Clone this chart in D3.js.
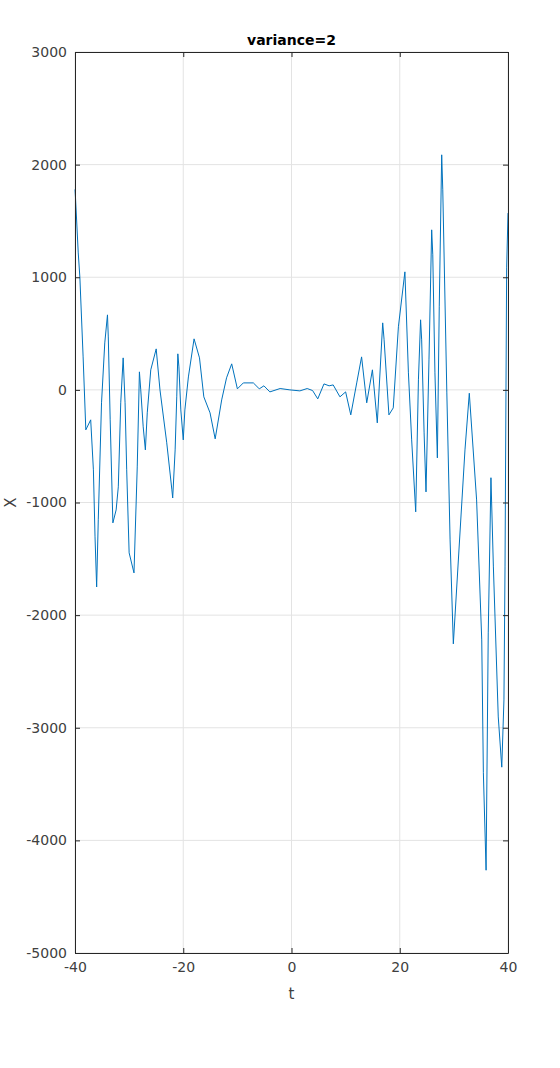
<!DOCTYPE html>
<html>
<head>
<meta charset="utf-8">
<script src="https://cdn.jsdelivr.net/npm/d3@7"></script>
<style>
  body { margin: 0; background: #fff; }
  svg text { font-family: "DejaVu Sans", sans-serif; fill: #262626; }
  .grid line { stroke: #e3e3e3; stroke-width: 1; }
  .axis path, .axis line { stroke: #262626; }
</style>
</head>
<body>
<div id="chart"></div>
<script>
// samples
var tVals = [-40, -39.9, -39.4, -39.1, -38.5, -38, -37.1, -36.6, -36.3, -36, -35.7, -35.1, -34.5, -34, -33.85, -33.5,
  -33, -32.4, -32, -31.55, -31.1, -30.75, -30.45, -30, -29.1, -28.5, -28.1, -27.85, -27.4, -27, -26.65, -26,
  -25, -24.3, -23.05, -22.1, -21.95, -21.5, -21.2, -21, -20.8, -20.45, -20, -19.7, -19.05, -18, -17, -16.2,
  -15.05, -14.1, -12.9, -12, -11.05, -10, -8.9, -7.05, -5.95, -5.1, -4, -2.1, -0.3, 1.55, 2.9, 3.9,
  4.85, 6, 6.95, 7.7, 8.95, 10, 10.95, 12.05, 12.95, 13.9, 14.95, 15.85, 16.85, 17.1, 18, 18.8,
  19.75, 20.95, 21.6, 22.2, 22.95, 23.45, 23.85, 24.05, 24.5, 24.85, 25.4, 25.9, 26.1, 26.5, 26.95, 27.3,
  27.75, 27.95, 28.7, 29.3, 29.9, 32.05, 32.85, 34.2, 35.15, 35.45, 35.95, 36.35, 36.85, 37.3, 38.2, 38.85,
  39.25, 39.45, 39.75, 40];
var xVals = [1780, 1700, 1216, 1000, 293, -355, -266, -710, -1305, -1750, -1154, -115, 417, 666, 470, -266,
  -1181, -1066, -861, -115, 284, -115, -710, -1447, -1625, -684, 160, 0, -328, -533, -204, 178,
  364, 0, -470, -888, -960, -533, -62, 320, 204, -178, -444, -178, 115, 453, 284, -62,
  -204, -435, -89, 107, 231, 9, 62, 62, 9, 36, -18, 12, 0, -9, 12, -6,
  -80, 53, 36, 44, -62, -18, -222, 62, 293, -115, 178, -293, 595, 450, -222, -160,
  560, 1048, 151, -444, -1083, 89, 622, 444, -382, -906, 266, 1421, 1199, 151, -604, 737,
  2087, 1776, -27, -1332, -2255, -533, -30, -977, -2220, -3400, -4265, -2158, -780, -1572, -2904, -3350,
  -2753, -1572, 1083, 1570];

var xTicks = [-40, -20, 0, 20, 40];
var yTicks = [-5000, -4000, -3000, -2000, -1000, 0, 1000, 2000, 3000];

var data = tVals.map(function(t, i) { return {t: t, x: xVals[i]}; });

var margin = {t: 52, r: 52, b: 115, l: 75};
var W = 560, H = 1068;
var width = W - margin.l - margin.r,
    height = H - margin.t - margin.b;

var svg = d3.select('#chart').append('svg')
    .attr('width', W)
    .attr('height', H);

var plot = svg.append('g').attr('transform', 'translate(' + margin.l + ',' + margin.t + ')');

var scaleX = d3.scaleLinear().domain([-40, 40]).range([0, width]);
var scaleY = d3.scaleLinear().domain([-5000, 3000]).range([height, 0]);

// plain labels with ascii minus, like the original
var plain = function(d) { return String(d); };

// grid
plot.append('g').attr('class', 'grid')
    .selectAll('line.gx').data(xTicks).enter().append('line')
    .attr('x1', function(d) { return scaleX(d); }).attr('x2', function(d) { return scaleX(d); })
    .attr('y1', 0).attr('y2', height);
plot.append('g').attr('class', 'grid')
    .selectAll('line.gy').data(yTicks).enter().append('line')
    .attr('y1', function(d) { return scaleY(d); }).attr('y2', function(d) { return scaleY(d); })
    .attr('x1', 0).attr('x2', width);

// the series
var line = d3.line()
    .x(function(d) { return scaleX(d.t); })
    .y(function(d) { return scaleY(d.x); });

plot.append('path')
    .datum(data)
    .attr('d', line)
    .attr('fill', 'none')
    .attr('stroke', '#0072bd')
    .attr('stroke-width', 1)
    .attr('stroke-linejoin', 'round');

// axes, ticks pointing in (box on all sides)
var axB = d3.axisBottom(scaleX).tickValues(xTicks).tickSizeInner(-5).tickSizeOuter(0).tickPadding(9).tickFormat(plain);
var axT = d3.axisTop(scaleX).tickValues(xTicks).tickSizeInner(-5).tickSizeOuter(0).tickFormat('');
var axL = d3.axisLeft(scaleY).tickValues(yTicks).tickSizeInner(-5).tickSizeOuter(0).tickPadding(8).tickFormat(plain);
var axR = d3.axisRight(scaleY).tickValues(yTicks).tickSizeInner(-5).tickSizeOuter(0).tickFormat('');

plot.append('g').attr('class', 'axis').attr('transform', 'translate(0,' + height + ')').call(axB);
plot.append('g').attr('class', 'axis').call(axT);
plot.append('g').attr('class', 'axis').call(axL);
plot.append('g').attr('class', 'axis').attr('transform', 'translate(' + width + ',0)').call(axR);

plot.selectAll('.axis text').attr('font-size', 14).style('fill', '#404040');
plot.selectAll('.axis path').attr('stroke', '#404040');
plot.selectAll('.axis line').attr('stroke', '#404040');

// labels
svg.append('text')
    .attr('x', margin.l + width / 2).attr('y', 45)
    .attr('text-anchor', 'middle')
    .attr('font-size', 14).attr('font-weight', 'bold')
    .style('fill', '#000')
    .text('variance=2');

svg.append('text')
    .attr('x', margin.l + width / 2).attr('y', margin.t + height + 46)
    .attr('text-anchor', 'middle')
    .attr('font-size', 15)
    .style('fill', '#404040')
    .text('t');

svg.append('text')
    .attr('transform', 'translate(16,' + (margin.t + height / 2) + ') rotate(-90)')
    .attr('text-anchor', 'middle')
    .attr('font-size', 15)
    .style('fill', '#404040')
    .text('X');
</script>
</body>
</html>
